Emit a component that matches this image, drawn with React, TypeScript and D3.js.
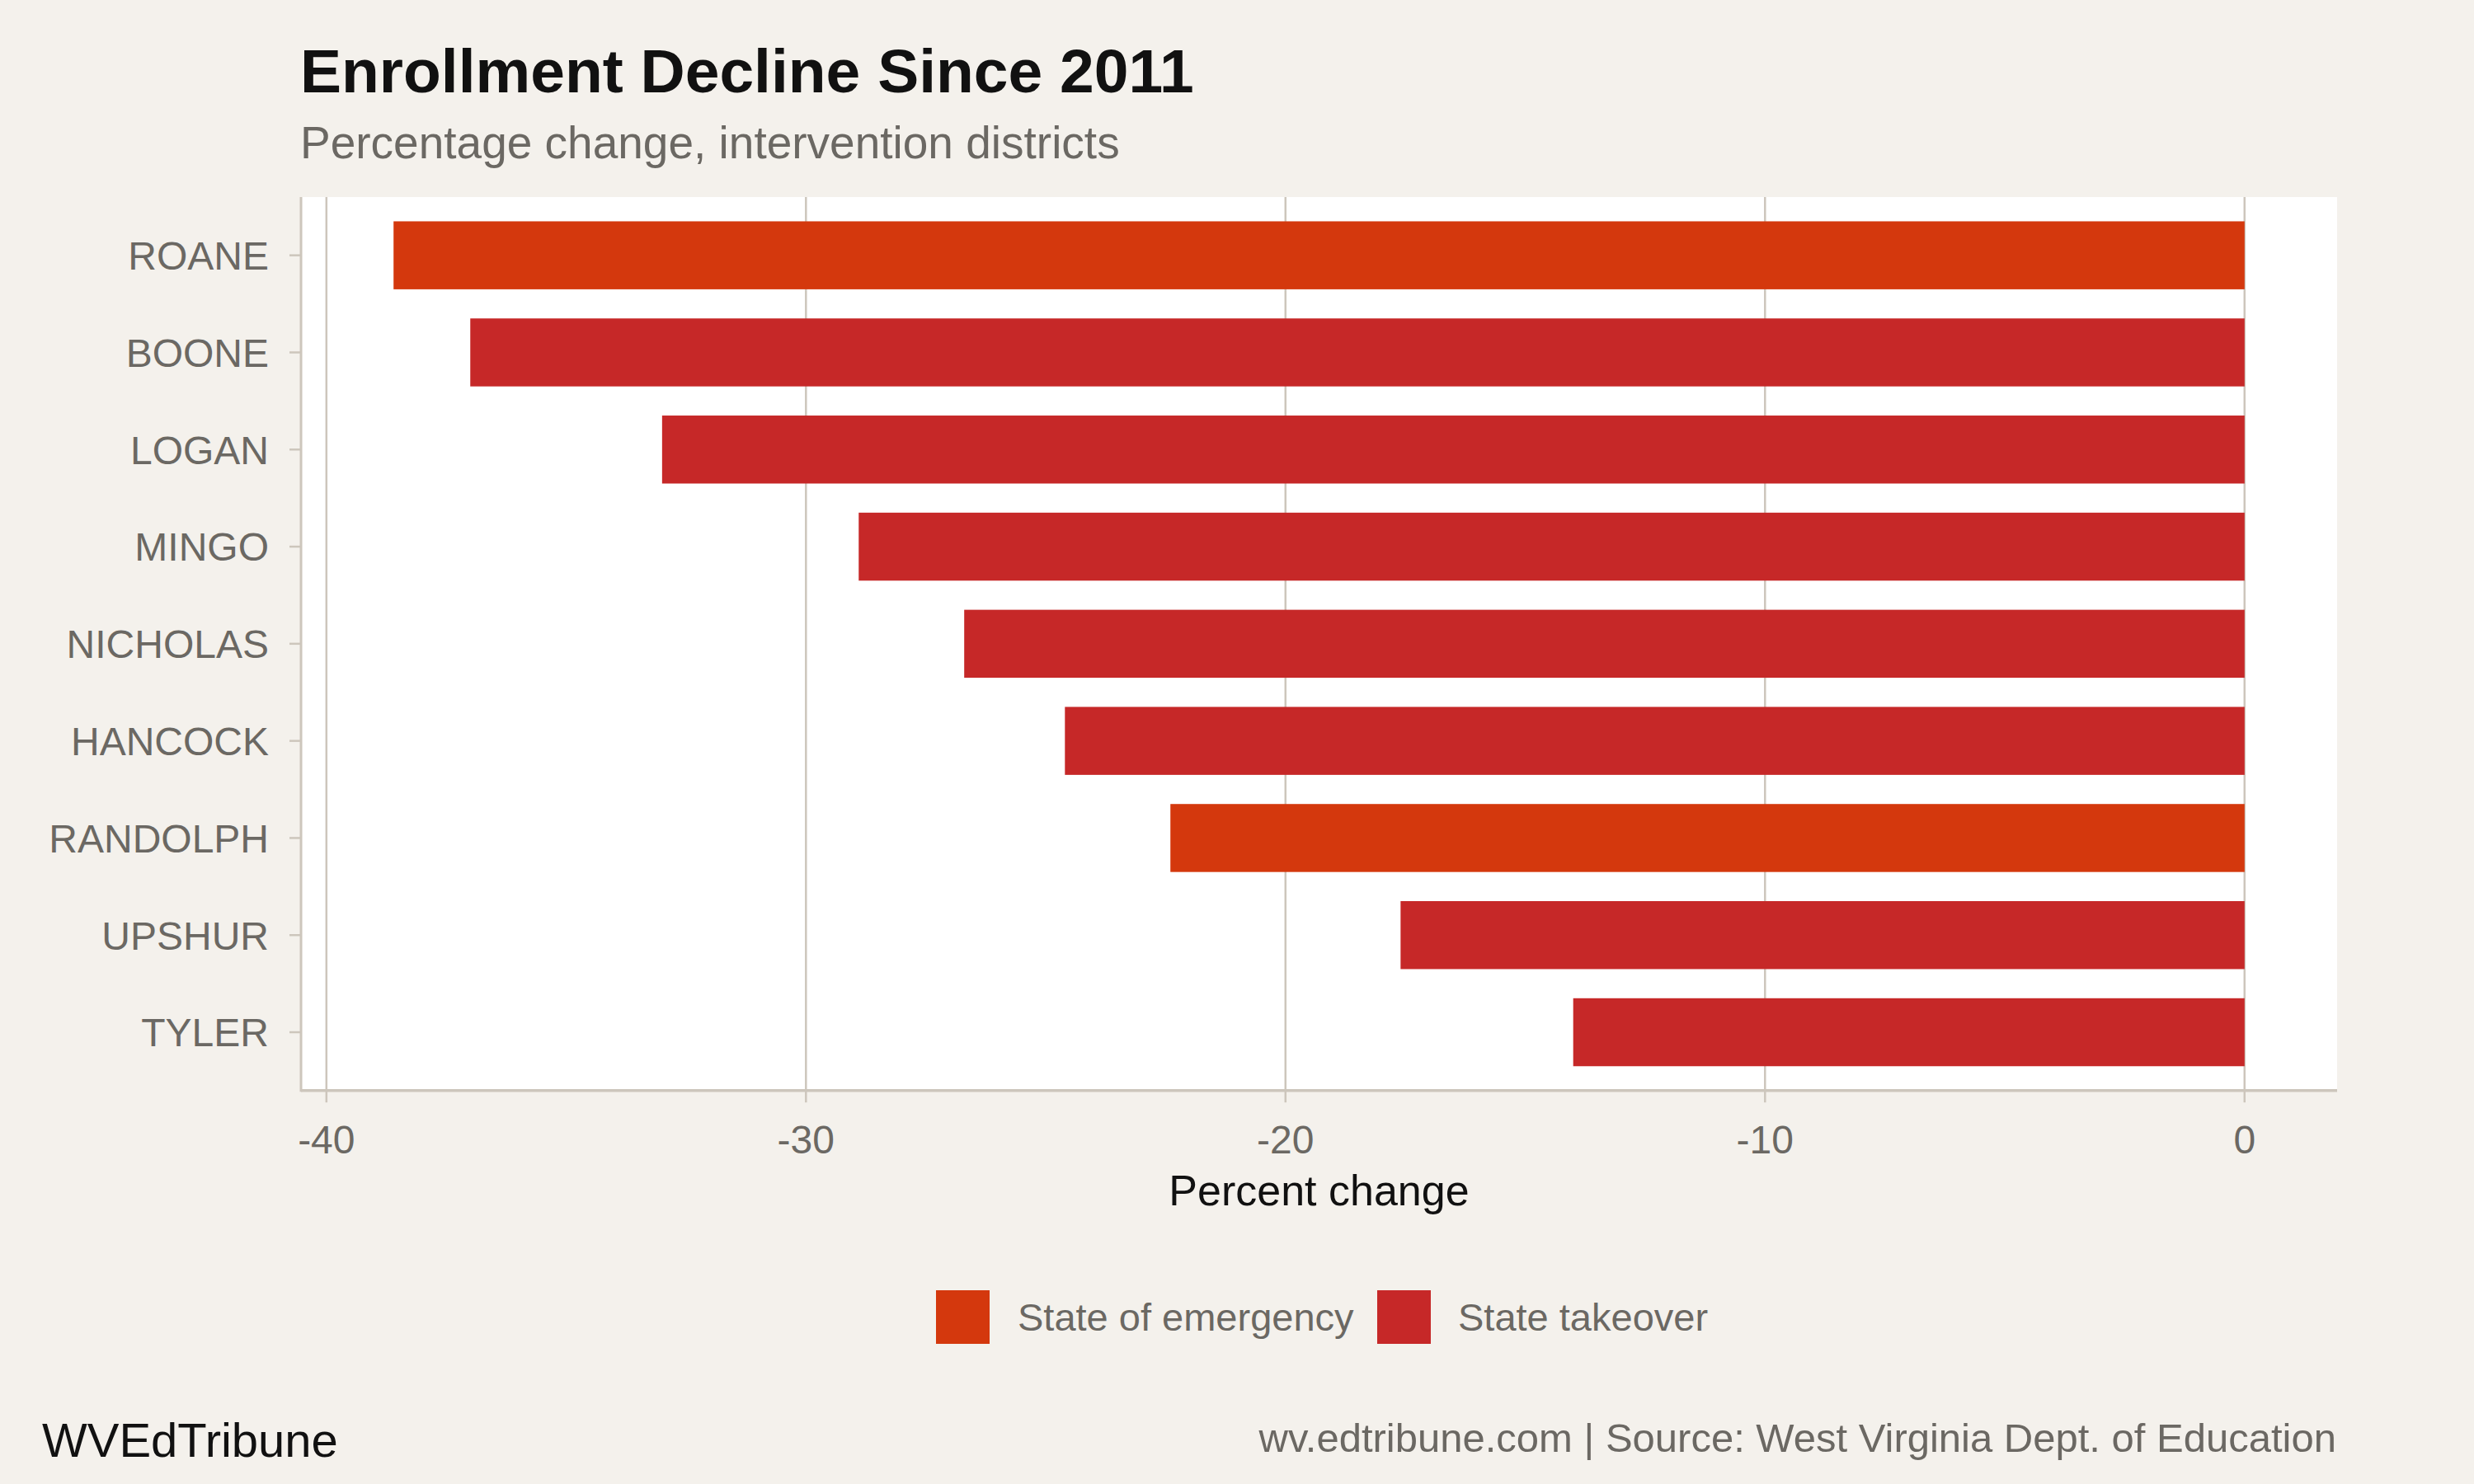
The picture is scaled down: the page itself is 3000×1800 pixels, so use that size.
import React from 'react';
import * as d3 from 'd3';

// Data
const districts = ['ROANE', 'BOONE', 'LOGAN', 'MINGO', 'NICHOLAS', 'HANCOCK', 'RANDOLPH', 'UPSHUR', 'TYLER'];
const pctChange = [-38.6, -37.0, -33.0, -28.9, -26.7, -24.6, -22.4, -17.6, -14.0];
const status = [
  'State of emergency', 'State takeover', 'State takeover', 'State takeover', 'State takeover',
  'State takeover', 'State of emergency', 'State takeover', 'State takeover',
];
const statusLevels = ['State of emergency', 'State takeover'];
const statusColors = ['#d4380d', '#c62828'];
const xTicks = [-40, -30, -20, -10, 0];

const W = 3000;
const H = 1800;
const FONT = '"Liberation Sans", Arial, Helvetica, sans-serif';
const BG = '#f4f1ec';
const GRID = '#cdc6bc';
const TEXT_GRAY = '#6b6863';

const App: React.FC = () => {
  const panel = { left: 365, right: 2834, top: 239, bottom: 1322.7 };

  // ggplot-style 5% expansion of the data range
  const minVal = d3.min(pctChange) ?? 0;
  const pad = (0 - minVal) * 0.05;
  const x = d3.scaleLinear().domain([minVal - pad, 0 + pad]).range([panel.left, panel.right]);

  const y = d3.scaleBand<string>()
    .domain(districts)
    .range([panel.top, panel.bottom])
    .paddingInner(0.3)
    .paddingOuter(0.25);

  const color = d3.scaleOrdinal<string, string>().domain(statusLevels).range(statusColors);

  const rows = districts.map((name, i) => ({ name, value: pctChange[i], status: status[i] }));

  const midX = (panel.left + panel.right) / 2;
  const legendItems = [
    { label: statusLevels[0], keyX: 1135, textX: 1234 },
    { label: statusLevels[1], keyX: 1670, textX: 1768 },
  ];

  return (
    <svg
      width={W}
      height={H}
      viewBox={`0 0 ${W} ${H}`}
      style={{ position: 'absolute', left: 0, top: 0, display: 'block' }}
      fontFamily={FONT}
    >
      <rect x={0} y={0} width={W} height={H} fill={BG} />

      {/* Title block */}
      <text x={364} y={112} fontSize={75} fontWeight="bold" fill="#111">
        Enrollment Decline Since 2011
      </text>
      <text x={364} y={192} fontSize={55} fill={TEXT_GRAY}>
        Percentage change, intervention districts
      </text>

      {/* Panel */}
      <rect
        x={panel.left}
        y={panel.top}
        width={panel.right - panel.left}
        height={panel.bottom - panel.top}
        fill="#ffffff"
      />

      {/* Vertical gridlines */}
      {xTicks.map(t => (
        <line
          key={`g${t}`}
          x1={x(t)}
          x2={x(t)}
          y1={panel.top}
          y2={panel.bottom}
          stroke={GRID}
          strokeWidth={2.5}
        />
      ))}

      {/* Bars */}
      {rows.map(d => (
        <rect
          key={d.name}
          x={x(d.value)}
          y={y(d.name)}
          width={x(0) - x(d.value)}
          height={y.bandwidth()}
          fill={color(d.status)}
        />
      ))}

      {/* Axis lines */}
      <line x1={panel.left} x2={panel.left} y1={panel.top} y2={panel.bottom + 1.5} stroke={GRID} strokeWidth={3} />
      <line x1={panel.left} x2={panel.right} y1={panel.bottom} y2={panel.bottom} stroke={GRID} strokeWidth={3.5} />

      {/* Y axis ticks and labels */}
      {districts.map(name => {
        const cy = (y(name) ?? 0) + y.bandwidth() / 2;
        return (
          <g key={`y${name}`}>
            <line x1={351} x2={panel.left} y1={cy} y2={cy} stroke={GRID} strokeWidth={2.5} />
            <text x={326} y={cy} dy="0.36em" textAnchor="end" fontSize={48} fill={TEXT_GRAY}>
              {name}
            </text>
          </g>
        );
      })}

      {/* X axis ticks and labels */}
      {xTicks.map(t => (
        <g key={`x${t}`}>
          <line x1={x(t)} x2={x(t)} y1={panel.bottom} y2={panel.bottom + 14.5} stroke={GRID} strokeWidth={2.5} />
          <text x={x(t)} y={1399} textAnchor="middle" fontSize={48} fill={TEXT_GRAY}>
            {t}
          </text>
        </g>
      ))}

      <text x={midX} y={1462} textAnchor="middle" fontSize={52} fill="#111">
        Percent change
      </text>

      {/* Legend */}
      {legendItems.map(item => (
        <g key={item.label}>
          <rect x={item.keyX} y={1565} width={65} height={65} fill={color(item.label)} />
          <text x={item.textX} y={1614} fontSize={47} fill={TEXT_GRAY}>
            {item.label}
          </text>
        </g>
      ))}

      {/* Footer */}
      <text x={51} y={1767} fontSize={58} fill="#111">
        WVEdTribune
      </text>
      <text x={2833} y={1761} textAnchor="end" fontSize={49} fill={TEXT_GRAY}>
        wv.edtribune.com | Source: West Virginia Dept. of Education
      </text>
    </svg>
  );
};

export default App;
